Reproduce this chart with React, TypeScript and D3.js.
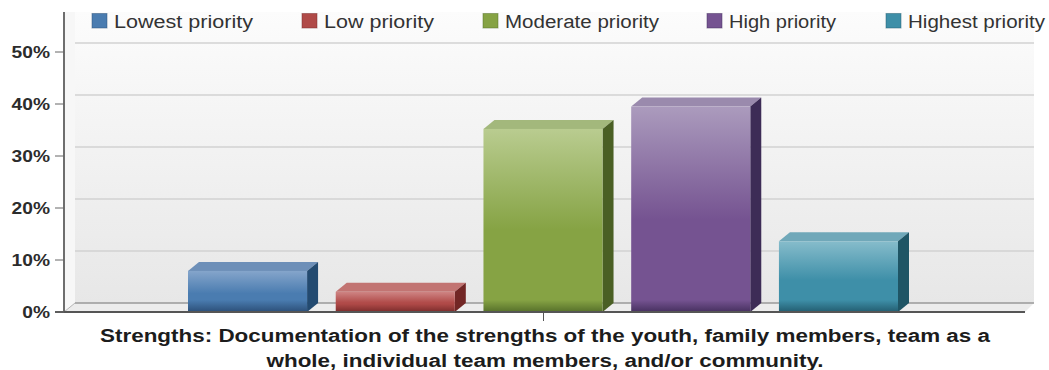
import * as d3 from "d3";

const categories = ["Lowest priority", "Low priority", "Moderate priority", "High priority", "Highest priority"];
const values = [7.9, 3.9, 35.2, 39.5, 13.6];
const yTicks = [0, 10, 20, 30, 40, 50];
const titleLines = [
  "Strengths: Documentation of the strengths of the youth, family members, team as a",
  "whole, individual team members, and/or community.",
];
const faceLight = ["#85a5cb", "#cf8584", "#b9cc90", "#ab9bbd", "#86bccb"];
const faceMid = ["#4a7cb0", "#b04a48", "#86a344", "#755391", "#3e8fa8"];
const faceDark = ["#2c4f78", "#7a2c2b", "#56702a", "#46305f", "#235d70"];
const faceTop = ["#6d8fb8", "#c27472", "#a3b87c", "#9a8aad", "#70a8b9"];
const faceSide = ["#234a70", "#722625", "#4a5f24", "#3d2c56", "#1f5565"];

// Legend layout: swatch left edge and the set width of each label.
const legendX = [92, 302, 483, 707, 886];
const legendTextWidth = [139, 110, 154, 107, 137];
const titleWidths = [890, 557];

const depthX = 11;
const depthY = 9;
const tickStretch = 1.13;

export default function App() {
  const y = d3.scaleLinear().domain([0, 50]).range([312, 52]);
  const x = d3.scaleBand<string>().domain(categories).range([188, 898]).paddingInner(0.194).paddingOuter(0);
  const wall = { left: 75, right: 1034, top: 12 };
  const floorY = y(0) - depthY;

  return (
    <svg width={1049} height={370} style={{ position: "absolute", left: 0, top: 0, background: "#fff" }}
      fontFamily="'Liberation Sans', Arial, sans-serif">
      <defs>
        <linearGradient id="wall" x1="0" x2="0" y1="0" y2="1">
          <stop offset="0" stopColor="#fcfcfc" />
          <stop offset="1" stopColor="#e7e7e7" />
        </linearGradient>
        {categories.map((c, i) => {
          const h = y(0) - y(values[i]);
          return (
            <linearGradient key={c} id={`face${i}`} x1="0" x2="0" y1="0" y2="1">
              <stop offset="0" stopColor={faceLight[i]} />
              <stop offset="0.55" stopColor={faceMid[i]} />
              <stop offset={Math.max(0.6, 1 - 12 / h)} stopColor={faceMid[i]} />
              <stop offset="1" stopColor={faceDark[i]} />
            </linearGradient>
          );
        })}
      </defs>

      {/* Back wall and floor of the 3D plot box */}
      <rect x={wall.left} y={wall.top} width={wall.right - wall.left} height={floorY - wall.top} fill="url(#wall)" />
      <polygon points={`64,${y(0)} ${wall.left},${floorY} ${wall.right},${floorY} ${wall.right - 9},${y(0)}`} fill="#ececec" />
      <polygon points={`64,${y(0)} ${wall.left},${floorY} ${wall.left},${wall.top} 64,${wall.top}`} fill="#f7f7f7" />
      <line x1={wall.left} x2={wall.right} y1={floorY} y2={floorY} stroke="#9a9a9a" strokeWidth={1.5} />
      <line x1={64} x2={wall.left} y1={y(0)} y2={floorY} stroke="#b5b5b5" />

      {yTicks.filter((t) => t > 0).map((t) => (
        <line key={t} x1={wall.left} x2={wall.right} y1={y(t) - depthY} y2={y(t) - depthY} stroke="#d2d2d2" strokeWidth={1.5} />
      ))}

      {/* Bars: front, top and right faces */}
      {categories.map((c, i) => {
        const x0 = x(c) as number;
        const w = x.bandwidth();
        const top = y(values[i]);
        const bottom = y(0);
        return (
          <g key={c}>
            <polygon points={`${x0},${top} ${x0 + depthX},${top - depthY} ${x0 + w + depthX},${top - depthY} ${x0 + w},${top}`} fill={faceTop[i]} />
            <polygon points={`${x0 + w},${top} ${x0 + w + depthX},${top - depthY} ${x0 + w + depthX},${bottom - depthY} ${x0 + w},${bottom}`} fill={faceSide[i]} />
            <rect x={x0} y={top} width={w} height={bottom - top} fill={`url(#face${i})`} />
          </g>
        );
      })}

      {/* Axes */}
      <line x1={64} x2={64} y1={12} y2={y(0)} stroke="#6e6e6e" strokeWidth={2} />
      <line x1={55} x2={1025} y1={y(0)} y2={y(0)} stroke="#555" strokeWidth={2} />
      <line x1={543.5} x2={543.5} y1={y(0)} y2={321} stroke="#555" />
      {yTicks.map((t) => (
        <g key={t}>
          <line x1={55} x2={64} y1={y(t)} y2={y(t)} stroke="#666" />
          <text transform={`translate(50,${y(t)}) scale(${tickStretch},1)`} dy="0.36em" textAnchor="end" fontSize={17} fontWeight="bold" fill="#2c2c2c">{`${t}%`}</text>
        </g>
      ))}

      {/* Legend */}
      {categories.map((c, i) => (
        <g key={c}>
          <rect x={legendX[i]} y={13.5} width={15} height={14.5} fill={faceMid[i]} stroke={faceDark[i]} strokeOpacity={0.5} />
          <text x={legendX[i] + 22} y={28} fontSize={18} fill="#333" textLength={legendTextWidth[i]} lengthAdjust="spacingAndGlyphs">{c}</text>
        </g>
      ))}

      {/* Category caption */}
      {titleLines.map((line, i) => (
        <text key={line} x={545 - titleWidths[i] / 2} y={342 + i * 24.5} fontSize={18} fontWeight="bold" fill="#1c1c1c" textLength={titleWidths[i]} lengthAdjust="spacingAndGlyphs">{line}</text>
      ))}
    </svg>
  );
}
